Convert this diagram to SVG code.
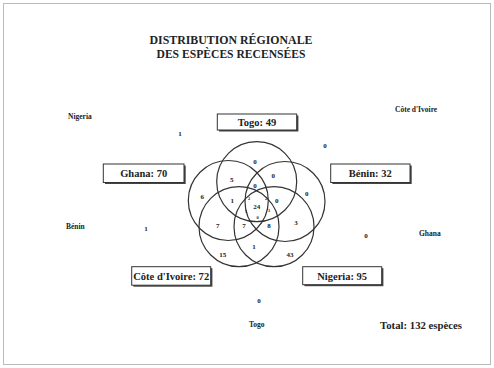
<svg xmlns="http://www.w3.org/2000/svg" width="494" height="368" viewBox="0 0 494 368">
<defs>
<style>
text{font-family:"Liberation Serif","Times New Roman",serif;font-weight:bold;fill:#222}
.c{fill:none;stroke:#333;stroke-width:1.2}
.box{fill:#fff;stroke:#333;stroke-width:1}
.sh{fill:#444}
.n{font-size:7px;text-anchor:middle}
.s{font-size:4.5px;text-anchor:middle}
.lab{font-size:10.5px;text-anchor:middle}
.out{font-size:7.5px}
</style>
</defs>
<rect x="3.5" y="3.5" width="487" height="361" fill="#fff" stroke="#bbb" stroke-width="1"/>
<g id="title">
<text x="231" y="44" font-size="11.5" text-anchor="middle" textLength="163" lengthAdjust="spacingAndGlyphs">DISTRIBUTION RÉGIONALE</text>
<text x="231" y="58" font-size="11.5" text-anchor="middle" textLength="149" lengthAdjust="spacingAndGlyphs">DES ESPÈCES RECENSÉES</text>
</g>
<g id="connectors">
<circle class="c" cx="256.7" cy="181.7" r="40"/>
<circle class="c" cx="228.3" cy="200.5" r="40"/>
<circle class="c" cx="285" cy="201.5" r="40"/>
<circle class="c" cx="239" cy="226.7" r="40"/>
<circle class="c" cx="274" cy="226.7" r="40"/>
</g>
<g id="counts">
<text class="n" x="255" y="164">0</text>
<text class="n" x="231.7" y="181.5">5</text>
<text class="n" x="273.3" y="178">0</text>
<text class="n" x="202.3" y="199">6</text>
<text class="n" x="255" y="188">0</text>
<text class="n" x="306.7" y="195.5">0</text>
<text class="n" x="232.3" y="203">1</text>
<text class="n" x="276.7" y="203">0</text>
<text class="n" x="256.7" y="208.5">24</text>
<text class="s" x="249" y="199.5">2</text>
<text class="s" x="266" y="199.5">2</text>
<text class="s" x="246" y="212.5">1</text>
<text class="s" x="269" y="212">1</text>
<text class="s" x="257.5" y="219">0</text>
<text class="n" x="217.7" y="228">7</text>
<text class="n" x="244" y="227.5">7</text>
<text class="n" x="269" y="227.5">8</text>
<text class="n" x="296" y="224.5">3</text>
<text class="n" x="254" y="249">1</text>
<text class="n" x="222.7" y="256.5">15</text>
<text class="n" x="290" y="256.5">43</text>
</g>
<g id="togo">
<rect class="sh" x="219" y="115.5" width="79.4" height="16"/>
<rect class="box" x="217.3" y="114" width="79.4" height="16"/>
<text class="lab" x="257" y="125.5">Togo: 49</text>
</g>
<g id="ghana">
<rect class="sh" x="105" y="165.5" width="80.7" height="18.5"/>
<rect class="box" x="103.3" y="164" width="80.7" height="18.5"/>
<text class="lab" x="143.7" y="177">Ghana: 70</text>
</g>
<g id="benin">
<rect class="sh" x="332.4" y="165.5" width="79.3" height="18.5"/>
<rect class="box" x="330.7" y="164" width="79.3" height="18.5"/>
<text class="lab" x="370.3" y="177">Bénin: 32</text>
</g>
<g id="cote">
<rect class="sh" x="133.4" y="268.2" width="79" height="18.5"/>
<rect class="box" x="131.7" y="266.7" width="79" height="18.5"/>
<text class="lab" x="171.2" y="280" textLength="76" lengthAdjust="spacingAndGlyphs">Côte d'Ivoire: 72</text>
</g>
<g id="nigeria">
<rect class="sh" x="304.4" y="268.2" width="79" height="18"/>
<rect class="box" x="302.7" y="266.7" width="79" height="18"/>
<text class="lab" x="342.2" y="279.5">Nigeria: 95</text>
</g>
<g id="outer">
<text class="out" x="68" y="119">Nigeria</text>
<text class="n" x="180" y="135.5">1</text>
<text class="out" x="395" y="111.5">Côte d'Ivoire</text>
<text class="n" x="325" y="148">0</text>
<text class="out" x="66" y="228.5">Bénin</text>
<text class="n" x="146" y="230.5">1</text>
<text class="n" x="366" y="238">0</text>
<text class="out" x="419" y="235.5">Ghana</text>
<text class="n" x="259" y="303">0</text>
<text class="out" x="249" y="326.5">Togo</text>
<text x="380" y="329" font-size="9.5" textLength="82" lengthAdjust="spacingAndGlyphs">Total: 132 espèces</text>
</g>
</svg>
